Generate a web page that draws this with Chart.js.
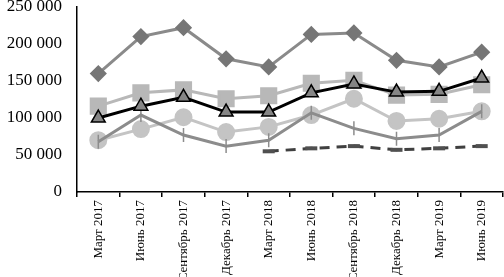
<!DOCTYPE html>
<html>
<head>
<meta charset="utf-8">
<script src="https://cdn.jsdelivr.net/npm/chart.js@4"></script>
<style>
  html, body { margin: 0; padding: 0; background: #fff; }
  #wrap { width: 504px; height: 277px; }
</style>
</head>
<body>
<div id="wrap"><canvas id="grafico"></canvas></div>
<script>
var periodos = ["Март 2017", "Июнь 2017", "Сентябрь 2017", "Декабрь 2017", "Март 2018",
  "Июнь 2018", "Сентябрь 2018", "Декабрь 2018", "Март 2019", "Июнь 2019"];

var serieRomb = [160000, 210000, 222000, 180000, 169000, 213000, 215000, 178000, 169000, 189000];
var serieKvadrat = [116000, 134000, 138000, 126000, 130000, 147000, 151000, 131000, 132000, 145000];
var serieTreug = [100000, 116000, 128000, 108000, 108000, 134000, 146000, 135000, 136000, 154000];
var serieKrug = [70000, 85000, 101000, 81000, 88000, 104000, 126000, 96000, 99000, 109000];
var seriePlus = [68000, 104000, 77000, 62000, 70000, 107000, 86000, 72000, 77000, 109000];
var serieShtrih = [null, null, null, null, 55000, 59000, 62000, 57000, 59000, 62000];

var yTicks = [0, 50000, 100000, 150000, 200000, 250000];

function formatar(v) {
  return String(v).replace(/\B(?=(\d{3})+(?!\d))/g, ' ');
}

var ctx = document.getElementById('grafico').getContext('2d');
var chart = new Chart(ctx, {
  type: 'line',
  data: {
    labels: periodos,
    datasets: [{
      // чёрная линия с треугольниками
      data: serieTreug,
      borderColor: '#000',
      borderWidth: 3,
      pointStyle: 'triangle',
      pointRadius: 8,
      pointBackgroundColor: '#858585',
      pointBorderColor: '#000',
      pointBorderWidth: 1.5,
      order: 0
    }, {
      data: serieRomb,
      borderColor: '#8a8a8a',
      borderWidth: 3,
      pointStyle: 'rectRot',
      pointRadius: 6.5,
      pointBackgroundColor: '#767676',
      pointBorderColor: '#767676',
      order: 1
    }, {
      data: serieKvadrat,
      borderColor: '#b8b8b8',
      borderWidth: 3,
      pointStyle: 'rect',
      pointRadius: 10,
      pointBackgroundColor: '#b8b8b8',
      pointBorderColor: '#b8b8b8',
      order: 2
    }, {
      data: seriePlus,
      borderColor: '#8c8c8c',
      borderWidth: 3,
      pointStyle: 'line',
      rotation: 90,
      pointRadius: 7,
      pointBorderColor: '#8c8c8c',
      pointBorderWidth: 1.5,
      order: 3
    }, {
      data: serieKrug,
      borderColor: '#c4c4c4',
      borderWidth: 3,
      pointStyle: 'circle',
      pointRadius: 7.5,
      pointBackgroundColor: '#c4c4c4',
      pointBorderColor: '#c4c4c4',
      order: 4
    }, {
      data: serieShtrih,
      borderColor: '#404040',
      borderWidth: 3,
      borderDash: [10, 7],
      pointStyle: 'line',
      pointRadius: 6,
      pointBorderColor: '#505050',
      pointBorderWidth: 4,
      order: 5
    }]
  },
  options: {
    responsive: true,
    maintainAspectRatio: false,
    animation: false,
    layout: { autoPadding: false, padding: { top: 7, right: 1, left: 0, bottom: 0 } },
    plugins: { legend: { display: false }, tooltip: { enabled: false } },
    elements: { line: { tension: 0 } },
    scales: {
      x: {
        offset: true,
        grid: { display: true, drawOnChartArea: false, offset: true, color: '#000', tickLength: 5, lineWidth: 1.5 },
        border: { display: true, color: '#000', width: 1.5 },
        ticks: {
          color: '#000', maxRotation: 90, minRotation: 90, padding: 3, autoSkip: false,
          font: { family: 'Liberation Serif', size: 13 }
        },
        afterFit: function (s) { s.height = 85; s.paddingLeft = 0; s.paddingRight = 0; }
      },
      y: {
        min: 0, max: 250000,
        afterBuildTicks: function (s) { s.ticks = yTicks.map(function (v) { return { value: v }; }); },
        grid: { display: false, drawTicks: false },
        border: { display: true, color: '#000', width: 1.5 },
        ticks: {
          color: '#000', padding: 15,
          font: { family: 'Liberation Serif', size: 17 },
          callback: function (v) { return formatar(v); }
        },
        afterFit: function (s) { s.width = 77; s.paddingTop = 0; s.paddingBottom = 0; }
      }
    }
  }
});
</script>
</body>
</html>
